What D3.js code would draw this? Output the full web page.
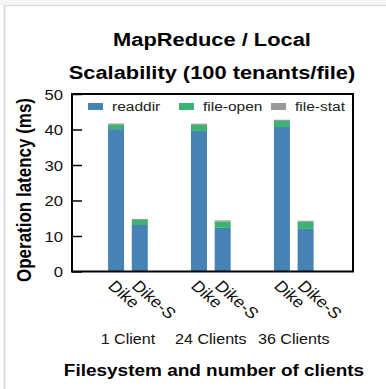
<!DOCTYPE html>
<html>
<head>
<meta charset="utf-8">
<script src="https://cdn.jsdelivr.net/npm/d3@7"></script>
<style>
  html, body { margin: 0; padding: 0; background: #fff; }
  svg { display: block; }
  text { font-family: "Liberation Sans", Arial, Helvetica, sans-serif; }
</style>
</head>
<body>
<svg id="chart" width="386" height="389"></svg>
<script>
// Groups (client counts) and filesystems within each group
const groups = ["1 Client", "24 Clients", "36 Clients"];
const systems = ["Dike", "Dike-S"];
const seriesNames = ["readdir", "file-open", "file-stat"];

// Latency per operation (ms), ordered by group then filesystem
const readdir  = [40.1, 13.1, 39.6, 12.3, 40.7, 12.0];
const fileOpen = [1.2, 1.4, 1.7, 1.8, 1.7, 2.0];
const fileStat = [0.4, 0.3, 0.35, 0.3, 0.35, 0.3];

const yTicks = [0, 10, 20, 30, 40, 50];
const colors = ["#4682b4", "#3cb371", "#999999"];

const W = 386, H = 389;
const svg = d3.select("#chart");
const stretch = 1.15; // horizontal glyph widening used by this figure's typography

// Page frame
svg.append("rect").attr("x", 0).attr("y", 0).attr("width", W).attr("height", 5).attr("fill", "#f5f5f5");
svg.append("line").attr("x1", 4).attr("x2", W).attr("y1", 5.5).attr("y2", 5.5).attr("stroke", "#dedede").attr("stroke-width", 1.5);
svg.append("line").attr("x1", 4.5).attr("x2", 4.5).attr("y1", 5).attr("y2", H).attr("stroke", "#dedede").attr("stroke-width", 2);

const plot = { left: 72, right: 353, top: 94, bottom: 271.5 };

// Slot layout: each group spans 2 bars, groups are 3.5 slots apart
const rows = [];
groups.forEach((g, gi) => systems.forEach((s, si) => {
  const i = gi * systems.length + si;
  rows.push({ group: g, gi, system: s, slot: gi * 3.5 + si,
              "readdir": readdir[i], "file-open": fileOpen[i], "file-stat": fileStat[i] });
}));

const x = d3.scaleLinear().domain([-1.86, 10]).range([plot.left, plot.right]);
const y = d3.scaleLinear().domain([0, 50]).range([plot.bottom, plot.top]);
const barW = x(0.675) - x(0);

const stack = d3.stack().keys(seriesNames)(rows);

svg.append("g").selectAll("g").data(stack).join("g")
  .attr("fill", (d, i) => colors[i])
  .selectAll("rect").data(d => d).join("rect")
  .attr("x", d => x(d.data.slot) - barW / 2)
  .attr("width", barW)
  .attr("y", d => y(d[1]))
  .attr("height", d => y(d[0]) - y(d[1]));

// Y axis with inward ticks
const yAxis = d3.axisLeft(y).tickValues(yTicks).tickSize(-10).tickFormat(d3.format("d"));
const ya = svg.append("g").attr("transform", `translate(${plot.left},0)`).call(yAxis);
ya.select(".domain").remove();
ya.selectAll(".tick line").attr("stroke", "#000").attr("stroke-width", 1.5);
ya.selectAll(".tick text")
  .attr("x", null).attr("dy", "0.36em")
  .attr("font-size", 14.5).attr("fill", "#111").attr("text-anchor", "end")
  .attr("transform", `translate(-9,0) scale(${stretch},1)`);

// Plot frame
svg.append("rect").attr("x", plot.left).attr("y", plot.top)
  .attr("width", plot.right - plot.left).attr("height", plot.bottom - plot.top)
  .attr("fill", "none").attr("stroke", "#000").attr("stroke-width", 2);

// Helper for horizontally widened text
function wideText(txt, cx, by, size, weight, anchor, fill) {
  return svg.append("text")
    .attr("transform", `translate(${cx},${by}) scale(${stretch},1)`)
    .attr("text-anchor", anchor || "middle")
    .attr("font-size", size).attr("font-weight", weight || "normal")
    .attr("fill", fill || "#000").text(txt);
}

// Title
wideText("MapReduce / Local", 212, 46, 19, "bold");
wideText("Scalability (100 tenants/file)", 212, 79, 19, "bold");

// Legend
const legendX = [88, 179, 271];
seriesNames.forEach((n, i) => {
  svg.append("rect").attr("x", legendX[i]).attr("y", 103).attr("width", 15).attr("height", 7).attr("fill", colors[i]);
  wideText(n, legendX[i] + 24, 111, 13.5, "normal", "start", "#222");
});

// Rotated filesystem labels
svg.append("g").selectAll("text").data(rows).join("text")
  .attr("transform", d => `translate(${x(d.slot) - 9},287) scale(${stretch},1) rotate(45)`)
  .attr("font-size", 15.5).attr("fill", "#111").text(d => d.system);

// Group labels
groups.forEach((g, gi) => {
  wideText(g, x(gi * 3.5 + 0.5), 344, 14, "normal", "middle", "#111");
});

// Axis titles
wideText("Filesystem and number of clients", 214, 376, 16.5, "bold");
svg.append("text")
  .attr("transform", `translate(31,190) rotate(-90) scale(1,${stretch})`)
  .attr("text-anchor", "middle").attr("font-size", 17).attr("font-weight", "bold")
  .text("Operation latency (ms)");
</script>
</body>
</html>
